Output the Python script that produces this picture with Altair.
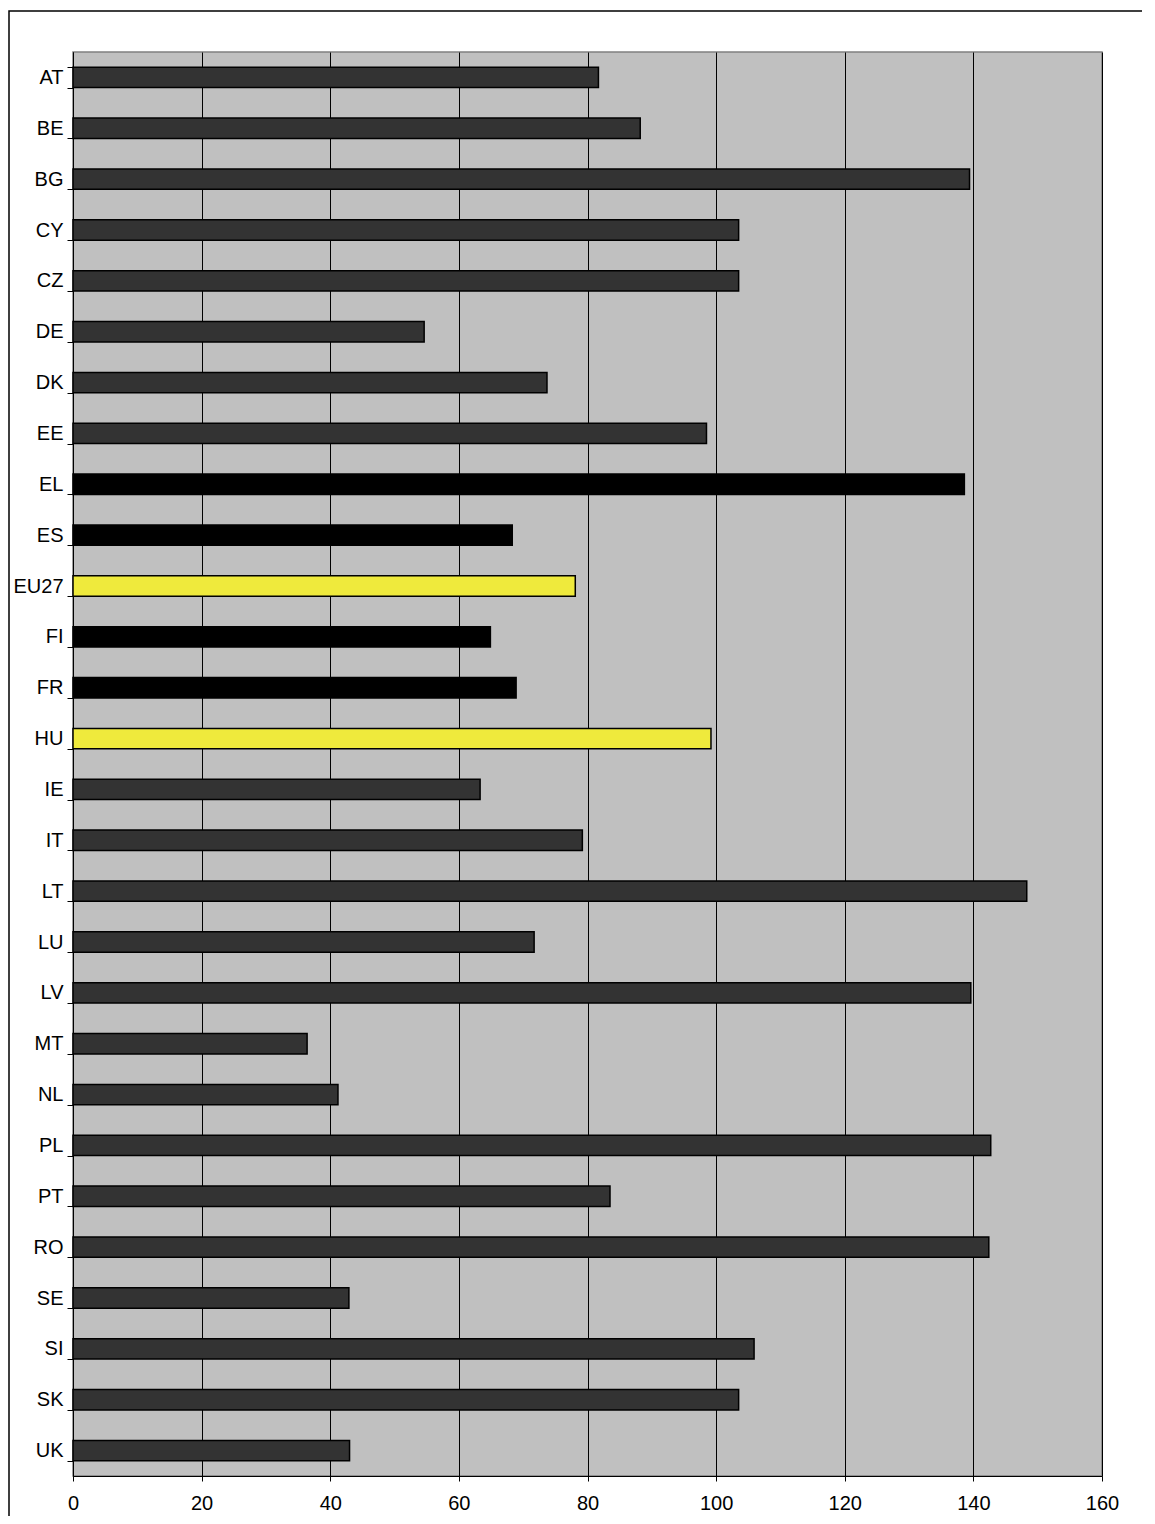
import altair as alt
import pandas as pd

countries = ["AT", "BE", "BG", "CY", "CZ", "DE", "DK", "EE", "EL", "ES", "EU27", "FI", "FR", "HU",
             "IE", "IT", "LT", "LU", "LV", "MT", "NL", "PL", "PT", "RO", "SE", "SI", "SK", "UK"]
values = [81.7, 88.2, 139.4, 103.5, 103.5, 54.6, 73.7, 98.5, 138.6, 68.3, 78.1, 64.9, 68.9, 99.2,
          63.3, 79.2, 148.3, 71.7, 139.6, 36.4, 41.2, 142.7, 83.5, 142.4, 42.9, 105.9, 103.5, 43.0]
groups = ["grey", "grey", "grey", "grey", "grey", "grey", "grey", "grey", "black", "black", "yellow",
          "black", "black", "yellow", "grey", "grey", "grey", "grey", "grey", "grey", "grey", "grey",
          "grey", "grey", "grey", "grey", "grey", "grey"]
x_ticks = [0, 20, 40, 60, 80, 100, 120, 140, 160]

df = pd.DataFrame({"country": countries, "value": values, "group": groups})

W, H = 1029, 1424
FONT = "Liberation Sans"

bars = alt.Chart(df).mark_bar(stroke="black", strokeWidth=1.5).encode(
    y=alt.Y("country:N", sort=countries, title=None,
            scale=alt.Scale(paddingInner=0.6, paddingOuter=0.3),
            axis=alt.Axis(tickBand="extent", tickSize=6, tickColor="black", domainColor="black",
                          labelFontSize=20, labelFont=FONT, labelColor="black", labelPadding=4,
                          grid=False)),
    x=alt.X("value:Q", title=None,
            scale=alt.Scale(domain=[0, 160], nice=False),
            axis=alt.Axis(values=x_ticks, grid=True, gridColor="black", gridWidth=1, gridOpacity=1,
                          tickSize=5, tickColor="black", domainColor="black", labelFlush=False,
                          labelFontSize=20, labelFont=FONT, labelColor="black", labelPadding=12)),
    color=alt.Color("group:N", legend=None,
                    scale=alt.Scale(domain=["grey", "black", "yellow"],
                                    range=["#333333", "#000000", "#EFEA3C"])),
)

frame = alt.Chart(pd.DataFrame({"a": [0]})).mark_rect(
    filled=False, stroke="black", strokeWidth=1.5
).encode(
    x=alt.value(-64), x2=alt.value(1090), y=alt.value(-41), y2=alt.value(1510)
)

chart = alt.layer(bars, frame).properties(
    width=W, height=H,
    autosize=alt.AutoSizeParams(type="none"),
    padding={"left": 65, "top": 44, "right": 40, "bottom": 40},
    background="white",
).configure_view(
    fill="#C0C0C0", stroke="#808080", strokeWidth=1.5
)

chart.save("out.html", embed_options={"renderer": "svg", "actions": False})
